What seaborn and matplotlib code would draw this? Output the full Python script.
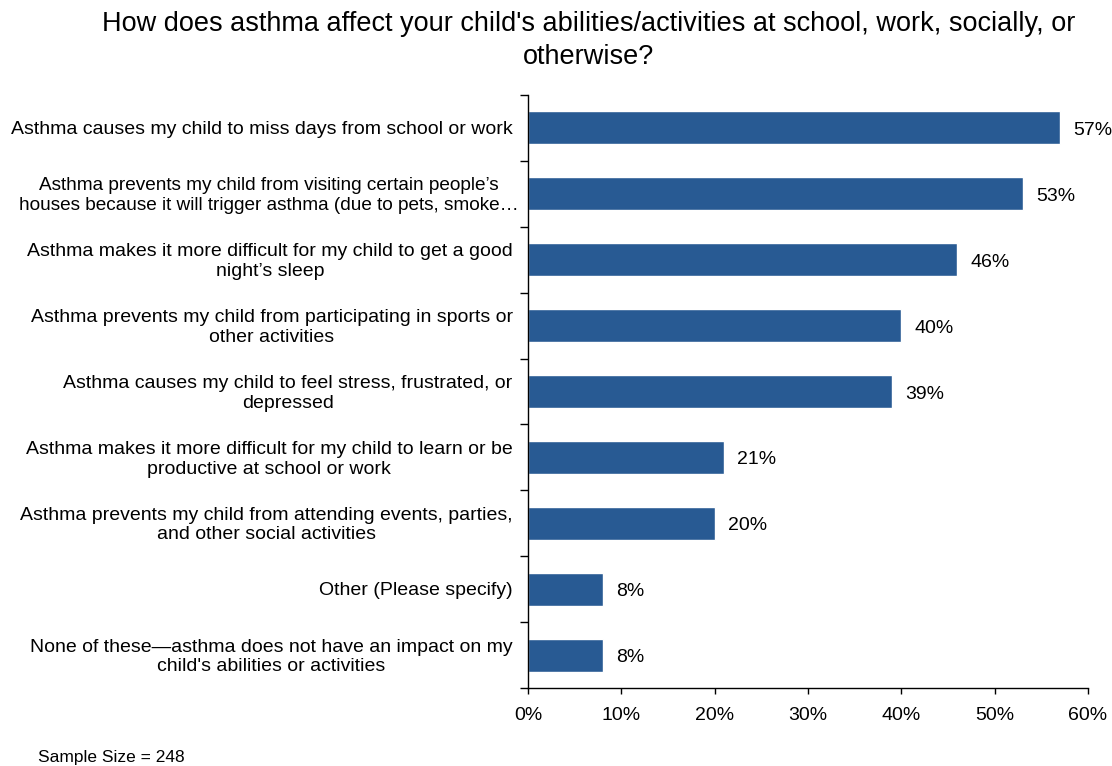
import matplotlib.pyplot as plt
import seaborn as sns
import pandas as pd
from matplotlib.ticker import PercentFormatter, FixedLocator

# Data
labels = [
    "Asthma causes my child to miss days from school or work",
    "Asthma prevents my child from visiting certain people\u2019s\nhouses because it will trigger asthma (due to pets, smoke\u2026",
    "Asthma makes it more difficult for my child to get a good\nnight\u2019s sleep",
    "Asthma prevents my child from participating in sports or\nother activities",
    "Asthma causes my child to feel stress, frustrated, or\ndepressed",
    "Asthma makes it more difficult for my child to learn or be\nproductive at school or work",
    "Asthma prevents my child from attending events, parties,\nand other social activities",
    "Other (Please specify)",
    "None of these\u2014asthma does not have an impact on my\nchild's abilities or activities",
]
values = [57, 53, 46, 40, 39, 21, 20, 8, 8]
sample_size = 248

df = pd.DataFrame({"label": labels, "value": values})

sns.set_style("white")
plt.rcParams["font.family"] = ["Liberation Sans", "DejaVu Sans"]
plt.rcParams["text.color"] = "black"
plt.rcParams["xtick.color"] = "black"
plt.rcParams["ytick.color"] = "black"

fig = plt.figure(figsize=(11.12, 7.66), dpi=100)
ax = fig.add_axes([0.4748, 0.1018, 0.5036, 0.7742])

sns.barplot(data=df, y="label", x="value", orient="h", color="#285A93",
            width=0.5, saturation=1, ax=ax)

# value labels to the right of each bar
for i, v in enumerate(values):
    ax.annotate(f"{v}%", xy=(v, i), xytext=(9.5, -1.8), textcoords="offset points",
                va="center", ha="left", fontsize=14)

ax.set_xlim(0, 60)
ax.set_ylim(len(values) - 0.5, -0.5)
ax.set_xticks(range(0, 61, 10))
ax.xaxis.set_major_formatter(PercentFormatter(decimals=0))
ax.tick_params(axis="x", bottom=True, labelsize=14, direction="out",
               length=4.5, width=1, pad=9)

# category boundary ticks on the y axis; category labels placed by hand
ax.yaxis.set_major_locator(FixedLocator([i - 0.5 for i in range(len(values) + 1)]))
ax.yaxis.set_major_formatter(plt.NullFormatter())
ax.tick_params(axis="y", which="major", left=True, direction="out", length=6, width=1)

for i, lab in enumerate(labels):
    # the truncated second label runs a few pixels wider than the rest
    wide = len(lab.split("\n")[-1]) > 55
    ax.annotate(lab, xy=(0, i), xycoords=("axes fraction", "data"),
                xytext=(-7 if wide else -11, -1.3), textcoords="offset points",
                ha="right", va="center", multialignment="center",
                fontsize=13.7 if wide else 14, linespacing=1.2)

ax.set_xlabel("")
ax.set_ylabel("")
for s in ["top", "right"]:
    ax.spines[s].set_visible(False)
for s in ["left", "bottom"]:
    ax.spines[s].set_color("black")
    ax.spines[s].set_linewidth(1)

fig.suptitle("How does asthma affect your child's abilities/activities at school, work, socially, or\notherwise?",
             x=0.529, y=0.985, fontsize=19.5, va="top", linespacing=1.35)
fig.text(0.034, 0.005, f"Sample Size = {sample_size}", fontsize=12.5, ha="left", va="baseline")

fig.savefig("out.png", dpi=100)
